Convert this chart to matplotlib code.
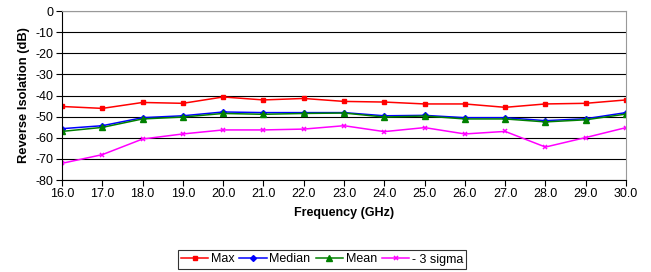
import matplotlib
matplotlib.use("Agg")
import matplotlib.pyplot as plt

plt.rcParams['font.family'] = ['Liberation Sans', 'DejaVu Sans']

freq = [16.0, 17.0, 18.0, 19.0, 20.0, 21.0, 22.0, 23.0, 24.0, 25.0, 26.0, 27.0, 28.0, 29.0, 30.0]
max_vals = [-45.2, -46.1, -43.3, -43.7, -40.7, -42.1, -41.4, -42.8, -43.1, -44.0, -44.0, -45.6, -44.0, -43.7, -42.1]
median_vals = [-55.7, -54.3, -50.5, -49.6, -47.8, -48.1, -48.1, -48.1, -49.6, -49.4, -50.5, -50.5, -51.9, -51.0, -48.1]
mean_vals = [-57.0, -55.1, -51.1, -50.2, -48.5, -48.9, -48.5, -48.3, -50.2, -49.7, -51.1, -51.1, -52.5, -51.5, -48.8]
sigma_vals = [-72.1, -68.0, -60.6, -58.2, -56.3, -56.3, -55.9, -54.3, -57.1, -55.2, -58.2, -57.0, -64.4, -59.9, -55.2]
yticks = [0, -10, -20, -30, -40, -50, -60, -70, -80]

fig = plt.figure(figsize=(6.51, 2.72), dpi=100)
ax = fig.add_axes([62/651, 1 - 180/272, (626-62)/651, (180-11)/272])

ax.plot(freq, max_vals, color='#ff0000', marker='s', markersize=3.5, lw=1.1, label='Max')
ax.plot(freq, median_vals, color='#0000ff', marker='D', markersize=3, lw=1.1, label='Median')
ax.plot(freq, mean_vals, color='#008000', marker='^', markersize=4, lw=1.1, label='Mean')
ax.plot(freq, sigma_vals, color='#ff00ff', marker='x', markersize=3.5, mew=1.1, lw=1.1, label='- 3 sigma')

ax.set_xlim(16, 30)
ax.set_ylim(-80, 0)
ax.set_xticks(freq)
ax.set_xticklabels([f"{f:.1f}" for f in freq], fontsize=9)
ax.set_yticks(yticks)
ax.set_yticklabels([str(v) for v in yticks], fontsize=9)
ax.yaxis.grid(True, color='black', lw=0.8)
ax.set_axisbelow(True)
for s in ['top', 'right']:
    ax.spines[s].set_color('#999999')
for s in ['left', 'bottom']:
    ax.spines[s].set_color('black')
ax.tick_params(axis='both', direction='out', length=4, width=0.8, colors='black', pad=2)

ax.set_xlabel('Frequency (GHz)', fontsize=9, fontweight='bold', labelpad=5)
ax.set_ylabel('Reverse Isolation (dB)', fontsize=9.3, fontweight='bold', labelpad=4)

leg = fig.legend(loc='center', bbox_to_anchor=(322/651, 1 - 259.5/272), ncol=4, fontsize=9,
                 frameon=True, fancybox=False, edgecolor='black', handlelength=2.2,
                 handletextpad=0.2, columnspacing=0.4, borderpad=0.25)
leg.get_frame().set_linewidth(0.8)

fig.savefig('out.png', dpi=100)
